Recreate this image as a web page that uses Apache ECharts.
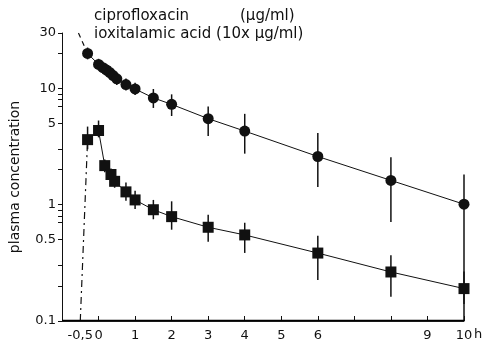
<!DOCTYPE html>
<html>
<head>
<meta charset="utf-8">
<script src="https://cdn.jsdelivr.net/npm/echarts@6/dist/echarts.min.js"></script>
<style>
  html, body { margin: 0; padding: 0; background: #fff; }
  #chart { width: 486px; height: 348px; }
</style>
</head>
<body>
<div id="chart"></div>
<script>
  // ciprofloxacin (circles)
  var ciproTime = [-0.3, 0, 0.12, 0.22, 0.31, 0.4, 0.5, 0.75, 1, 1.5, 2, 3, 4, 6, 8, 10];
  var ciproMean = [20.0, 16.1, 15.1, 14.4, 13.7, 12.9, 12.1, 10.8, 9.9, 8.3, 7.3, 5.5, 4.3, 2.6, 1.62, 1.01];
  var ciproHigh = [22.5, 18.0, 17.0, 16.2, 15.5, 14.5, 13.6, 12.2, 11.2, 9.9, 8.9, 7.0, 6.05, 4.15, 2.56, 1.82];
  var ciproLow  = [17.8, 14.3, 13.4, 12.8, 12.2, 11.5, 10.7, 9.6, 8.8, 6.8, 5.8, 3.9, 2.75, 1.42, 0.71, 0.1];
  var ciproDashTime = [-0.55, -0.3];
  var ciproDash = [30, 20.0];

  // ioxitalamic acid (squares)
  var ioxTime = [-0.3, 0, 0.17, 0.34, 0.44, 0.75, 1, 1.5, 2, 3, 4, 6, 8, 10];
  var ioxMean = [3.63, 4.35, 2.17, 1.82, 1.59, 1.29, 1.10, 0.906, 0.79, 0.64, 0.55, 0.384, 0.264, 0.19];
  var ioxHigh = [4.7, 5.3, 2.45, 2.05, 1.8, 1.55, 1.32, 1.1, 1.07, 0.82, 0.70, 0.54, 0.368, 0.266];
  var ioxLow  = [3.0, 3.8, 1.9, 1.6, 1.4, 1.08, 0.92, 0.75, 0.61, 0.48, 0.385, 0.225, 0.162, 0.14];
  var ioxDashTime = [-0.5, -0.3];
  var ioxDash = [0.1, 3.63];

  // axis ticks and labels
  var xRange = [-1, 10];
  var yRange = [0.1, 30];
  var xLabelValues = [-0.5, 0, 1, 2, 3, 4, 5, 6, 9, 10];
  var xTickValues = [0, 1, 2, 3, 4, 5, 6, 7, 8, 9, 10];
  var yLabelValues = [0.1, 0.5, 1, 5, 10, 30];
  var yTickValues = [0.1, 0.2, 0.3, 0.5, 0.7, 0.8, 0.9, 1, 2, 3, 5, 7, 8, 9, 10, 20, 30];

  function zip(xs, ys) {
    return xs.map(function (x, i) { return [x, ys[i]]; });
  }
  function zip3(xs, lo, hi) {
    return xs.map(function (x, i) { return [x, lo[i], hi[i]]; });
  }

  function errorBars(params, api) {
    var p1 = api.coord([api.value(0), api.value(1)]);
    var p2 = api.coord([api.value(0), api.value(2)]);
    return {
      type: 'line',
      shape: { x1: p1[0], y1: p1[1], x2: p2[0], y2: p2[1] },
      style: { stroke: '#111', lineWidth: 1.5 }
    };
  }

  // horizontal base line along the x axis (value 0 = start, 1 = end, 2 = y level)
  function baseLine(params, api) {
    var p1 = api.coord([api.value(0), api.value(2)]);
    var p2 = api.coord([api.value(1), api.value(2)]);
    var y = Math.round(p1[1]) - 0.5;
    return {
      type: 'line',
      shape: { x1: p1[0], y1: y, x2: p2[0], y2: y },
      style: { stroke: '#000', lineWidth: 1.5 }
    };
  }

  var font = 'DejaVu Sans';
  var chart = echarts.init(document.getElementById('chart'));
  chart.setOption({
    animation: false,
    backgroundColor: '#fff',
    grid: { left: 60, right: 22, top: 33, bottom: 27 },
    xAxis: {
      type: 'value',
      min: xRange[0],
      max: xRange[1],
      splitLine: { show: false },
      axisLine: { show: true, onZero: false, lineStyle: { color: '#222', width: 1 } },
      axisTick: { show: true, inside: true, length: 5, customValues: xTickValues, lineStyle: { color: '#111' } },
      axisLabel: {
        customValues: xLabelValues,
        color: '#111',
        fontFamily: font,
        fontSize: 13,
        margin: 8,
        formatter: function (v) { return v === -0.5 ? '-0,5' : String(v); }
      }
    },
    yAxis: {
      type: 'log',
      logBase: 10,
      min: yRange[0],
      max: yRange[1],
      name: 'plasma concentration',
      nameLocation: 'middle',
      nameGap: 40,
      nameTextStyle: { color: '#111', fontFamily: font, fontSize: 14 },
      splitLine: { show: false },
      minorTick: { show: false },
      axisLine: { show: true, onZero: false, lineStyle: { color: '#111', width: 1 } },
      axisTick: { show: true, length: 4, customValues: yTickValues, lineStyle: { color: '#111' } },
      axisLabel: {
        customValues: yLabelValues,
        color: '#111',
        fontFamily: font,
        fontSize: 13,
        margin: 6,
        formatter: function (v) { return String(v); }
      }
    },
    graphic: [
      { type: 'text', left: 94, top: 9, style: { text: 'ciprofloxacin', font: '15px ' + font, fill: '#111' } },
      { type: 'text', left: 240, top: 9, style: { text: '(µg/ml)', font: '15px ' + font, fill: '#111' } },
      { type: 'text', left: 94, top: 27, style: { text: 'ioxitalamic acid (10x µg/ml)', font: '15px ' + font, fill: '#111' } },
      { type: 'text', left: 474, top: 328, style: { text: 'h', font: '13px ' + font, fill: '#111' } }
    ],
    series: [
      {
        type: 'custom',
        renderItem: baseLine,
        clip: false,
        silent: true,
        data: [[xRange[0], xRange[1], yRange[0]]],
        z: 10
      },
      {
        type: 'line',
        data: zip(ciproDashTime, ciproDash),
        symbol: 'none',
        lineStyle: { color: '#111', width: 1.2, type: [5, 4] },
        z: 1
      },
      {
        type: 'line',
        data: zip(ioxDashTime, ioxDash),
        symbol: 'none',
        lineStyle: { color: '#111', width: 1.2, type: [7, 4, 2, 4] },
        z: 1
      },
      {
        type: 'custom',
        renderItem: errorBars,
        data: zip3(ciproTime, ciproLow, ciproHigh),
        z: 2
      },
      {
        type: 'custom',
        renderItem: errorBars,
        data: zip3(ioxTime, ioxLow, ioxHigh),
        z: 2
      },
      {
        name: 'ciprofloxacin',
        type: 'line',
        data: zip(ciproTime, ciproMean),
        symbol: 'circle',
        symbolSize: 11,
        itemStyle: { color: '#111' },
        lineStyle: { color: '#111', width: 1 },
        z: 3
      },
      {
        name: 'ioxitalamic acid',
        type: 'line',
        data: zip(ioxTime, ioxMean),
        symbol: 'rect',
        symbolSize: 11,
        itemStyle: { color: '#111' },
        lineStyle: { color: '#111', width: 1 },
        z: 3
      }
    ]
  });
</script>
</body>
</html>
